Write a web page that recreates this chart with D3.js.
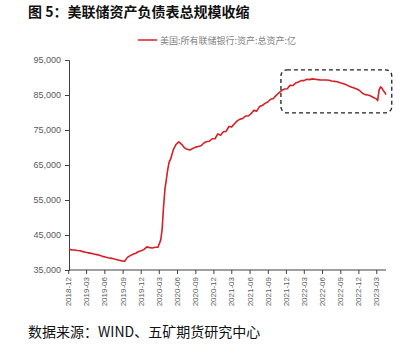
<!DOCTYPE html>
<html lang="zh">
<head>
<meta charset="UTF-8"/>
<title>美联储资产负债表总规模收缩</title>
<script src="https://d3js.org/d3.v7.min.js"></script>
<style>
	body { margin: 0; background: #fff; }
	svg { display: block; font-family: "Liberation Sans", Arial, sans-serif; }
</style>
</head>
<body>
<script>
var w = 412;
var h = 359;

// weekly / biweekly readings, unit: 亿美元
var dates = ["2018-12-05","2018-12-19","2019-01-02","2019-01-16","2019-01-30","2019-02-13","2019-02-27",
	"2019-03-13","2019-03-27","2019-04-10","2019-04-24","2019-05-08","2019-05-22","2019-06-05","2019-06-19",
	"2019-07-03","2019-07-17","2019-07-31","2019-08-14","2019-08-28","2019-09-11","2019-09-25","2019-10-09",
	"2019-10-23","2019-11-06","2019-11-20","2019-12-04","2019-12-18","2020-01-01","2020-01-15","2020-01-29",
	"2020-02-12","2020-02-26","2020-03-11","2020-03-18","2020-03-25","2020-04-01","2020-04-08","2020-04-15",
	"2020-04-22","2020-04-29","2020-05-13","2020-05-27","2020-06-10","2020-06-24","2020-07-08","2020-07-22",
	"2020-08-05","2020-08-19","2020-09-02","2020-09-16","2020-09-30","2020-10-14","2020-10-28","2020-11-11",
	"2020-11-25","2020-12-09","2020-12-23","2021-01-06","2021-01-20","2021-02-03","2021-02-17","2021-03-03",
	"2021-03-17","2021-03-31","2021-04-14","2021-04-28","2021-05-12","2021-05-26","2021-06-09","2021-06-23",
	"2021-07-07","2021-07-21","2021-08-04","2021-08-18","2021-09-01","2021-09-15","2021-09-29","2021-10-13",
	"2021-10-27","2021-11-10","2021-11-24","2021-12-08","2021-12-22","2022-01-05","2022-01-19","2022-02-02",
	"2022-02-16","2022-03-02","2022-03-16","2022-03-30","2022-04-13","2022-04-27","2022-05-11","2022-05-25",
	"2022-06-08","2022-06-22","2022-07-06","2022-07-20","2022-08-03","2022-08-17","2022-08-31","2022-09-14",
	"2022-09-28","2022-10-12","2022-10-26","2022-11-09","2022-11-23","2022-12-07","2022-12-21","2023-01-04",
	"2023-01-18","2023-02-01","2023-02-15","2023-03-01","2023-03-08","2023-03-15","2023-03-22","2023-03-29",
	"2023-04-05","2023-04-12","2023-04-19"];
var values = [40900,40750,40700,40550,40500,40250,40050,
	39900,39750,39550,39400,39200,38900,38700,38500,
	38400,38200,38000,37800,37600,37500,38600,39100,
	39500,39800,40300,40500,40900,41600,41400,41300,
	41500,41500,43600,46700,53000,58100,60800,63700,
	65800,66600,69300,70900,71600,70900,69900,69500,
	69300,69700,70100,70300,70500,71300,71700,71800,
	72500,72500,73900,73500,74500,74600,76000,75900,
	76800,77600,78100,78300,79000,79000,79700,80600,
	80400,81700,82000,82600,83000,83800,84000,84900,
	85600,86300,86700,86800,87800,87700,88400,88700,
	89100,89100,89500,89400,89600,89500,89400,89300,
	89300,89300,89200,89000,88900,88800,88500,88300,
	88000,87600,87300,87000,86700,86300,85500,85100,
	85000,84700,84300,83900,83400,86400,87300,87000,
	86300,85800,85100];

var yTicks = [35000,45000,55000,65000,75000,85000,95000];
var xTickLabels = ["2018-12","2019-03","2019-06","2019-09","2019-12","2020-03","2020-06","2020-09",
	"2020-12","2021-03","2021-06","2021-09","2021-12","2022-03","2022-06","2022-09","2022-12","2023-03"];

var seriesName = "美国:所有联储银行:资产:总资产:亿";
var title = "图 5：美联储资产负债表总规模收缩";
var source = "数据来源：WIND、五矿期货研究中心";

// highlighted region (dates / values)
var boxDates = ["2021-11-06","2023-05-18"];
var boxValues = [79900,92200];

var parse = d3.timeParse("%Y-%m-%d");
var parseMonth = d3.timeParse("%Y-%m");
var data = dates.map(function(d, i){ return {date: parse(d), value: values[i]}; });

var xScale = d3.scaleTime()
	.domain([parse("2018-12-05"), parse("2023-04-19")])
	.range([69, 386]);

var yScale = d3.scaleLinear()
	.domain([35000, 95000])
	.range([270, 60]);

var svg = d3.select("body")
	.append("svg")
	.attr("width", w)
	.attr("height", h);

svg.append("rect").attr("width", w).attr("height", h).attr("fill", "#fff");

// title
svg.append("text")
	.attr("x", 28)
	.attr("y", 16.5)
	.style("font-family", "'Noto Sans CJK SC', sans-serif")
	.style("font-size", "14px")
	.style("font-weight", "bold")
	.attr("fill", "#111")
	.text(title);

// legend
svg.append("line")
	.attr("x1", 138).attr("x2", 157)
	.attr("y1", 40).attr("y2", 40)
	.attr("stroke", "#d42027")
	.attr("stroke-width", 1.5);
svg.append("text")
	.attr("x", 160)
	.attr("y", 43.5)
	.style("font-family", "'Noto Sans CJK SC', sans-serif")
	.style("font-size", "9px")
	.attr("fill", "#7f7f7f")
	.text(seriesName);

// y axis
var yAxis = d3.axisLeft(yScale)
	.tickValues(yTicks)
	.tickFormat(d3.format(","))
	.tickSize(4)
	.tickPadding(4);

var gy = svg.append("g")
	.attr("transform", "translate(69,0)")
	.call(yAxis);
gy.selectAll("text").style("font-size", "9px").attr("fill", "#595959");
gy.selectAll("line").attr("stroke", "#404040");
gy.select(".domain").attr("stroke", "#404040");

// x axis
var xAxis = d3.axisBottom(xScale)
	.tickValues(xTickLabels.map(parseMonth))
	.tickFormat(d3.timeFormat("%Y-%m"))
	.tickSize(4)
	.tickSizeOuter(0);

var gx = svg.append("g")
	.attr("transform", "translate(0,270)")
	.call(xAxis);
gx.select(".domain").attr("stroke", "#404040").attr("d", "M69,0H386");
gx.selectAll("line").attr("stroke", "#404040");
gx.selectAll("text")
	.style("font-size", "8px")
	.attr("fill", "#595959")
	.attr("text-anchor", "end")
	.attr("transform", "rotate(-90)")
	.attr("x", -7)
	.attr("y", 0)
	.attr("dy", "0.32em");

// series line
var line = d3.line()
	.x(function(d){ return xScale(d.date); })
	.y(function(d){ return yScale(d.value); });

svg.append("path")
	.datum(data)
	.attr("d", line)
	.attr("fill", "none")
	.attr("stroke", "#d42027")
	.attr("stroke-width", 1.6)
	.attr("stroke-linejoin", "round");

// dashed highlight box
var bx0 = xScale(parse(boxDates[0])), bx1 = xScale(parse(boxDates[1]));
var by0 = yScale(boxValues[1]), by1 = yScale(boxValues[0]);
svg.append("rect")
	.attr("x", bx0)
	.attr("y", by0)
	.attr("width", bx1 - bx0)
	.attr("height", by1 - by0)
	.attr("rx", 6)
	.attr("fill", "none")
	.attr("stroke", "#222")
	.attr("stroke-width", 1.3)
	.attr("stroke-dasharray", "4,3");

// source
svg.append("text")
	.attr("x", 28)
	.attr("y", 337)
	.style("font-family", "'Noto Sans CJK SC', sans-serif")
	.style("font-size", "14px")
	.attr("fill", "#111")
	.text(source);
</script>
</body>
</html>
